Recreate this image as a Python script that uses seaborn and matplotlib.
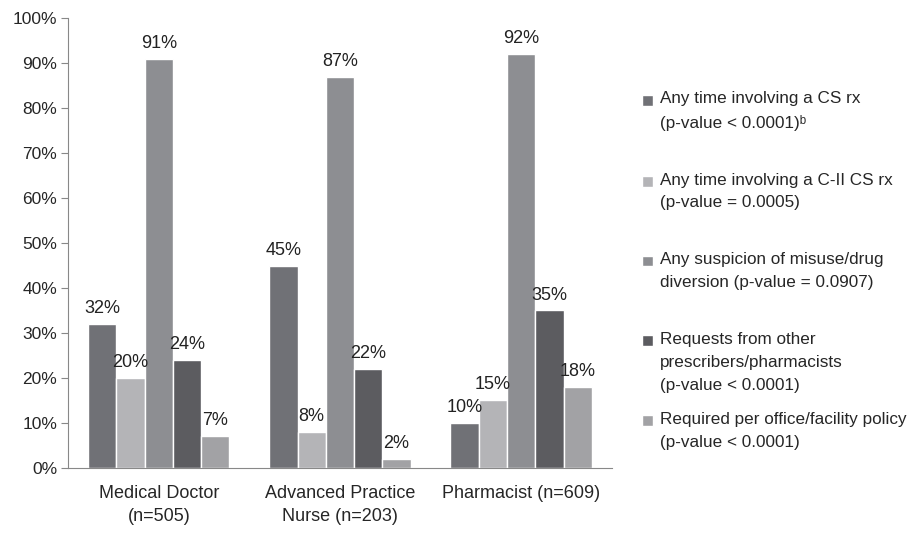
import pandas as pd
import seaborn as sns
import matplotlib.pyplot as plt
from matplotlib.patches import Rectangle
from matplotlib.legend_handler import HandlerPatch

groups = ["Medical Doctor\n(n=505)", "Advanced Practice\nNurse (n=203)", "Pharmacist (n=609)"]
series = [
    "Any time involving a CS rx\n(p-value < 0.0001)\u1d47",
    "Any time involving a C-II CS rx\n(p-value = 0.0005)",
    "Any suspicion of misuse/drug\ndiversion (p-value = 0.0907)",
    "Requests from other\nprescribers/pharmacists\n(p-value < 0.0001)",
    "Required per office/facility policy\n(p-value < 0.0001)",
]
cs_rx = [32, 45, 10]
c2_rx = [20, 8, 15]
misuse = [91, 87, 92]
requests = [24, 22, 35]
policy = [7, 2, 18]
colors = ["#707176", "#b4b4b7", "#8d8e92", "#5c5c60", "#a2a2a5"]

rows = []
for s, vals in zip(series, [cs_rx, c2_rx, misuse, requests, policy]):
    for g, v in zip(groups, vals):
        rows.append({"group": g, "series": s, "value": v})
df = pd.DataFrame(rows)

sns.set_style("white")
plt.rcParams["font.family"] = ["Liberation Sans", "DejaVu Sans"]

fig = plt.figure(figsize=(9.09, 5.53), dpi=100)
ax = fig.add_axes([0.075, 0.154, 0.598, 0.813])
sns.barplot(data=df, x="group", y="value", hue="series", palette=colors,
            width=0.78, saturation=1, ax=ax, errorbar=None)

for c in ax.containers:
    ax.bar_label(c, fmt="%d%%", padding=5, fontsize=13, color="#222222")

ax.set_ylim(0, 100)
ax.set_yticks(range(0, 101, 10))
ax.set_yticklabels([f"{t}%" for t in range(0, 101, 10)], fontsize=12.5)
ax.set_xlim(-0.5, 2.5)
ax.set_xticks([-0.5, 0.5, 1.5, 2.5], minor=True)
ax.tick_params(axis="x", which="major", length=0, labelsize=13, pad=12)
ax.tick_params(axis="x", which="minor", length=5, color="#888888", direction="out")
ax.tick_params(axis="y", length=5, color="#888888", direction="out", left=True, pad=3)
for t in ax.get_xticklabels():
    t.set_linespacing(1.5)
ax.set_xlabel("")
ax.set_ylabel("")
for sp in ["top", "right"]:
    ax.spines[sp].set_visible(False)
for sp in ["left", "bottom"]:
    ax.spines[sp].set_color("#888888")


# legend: every entry takes three lines, square sits next to the first line
def top_square(legend, orig_handle, xdescent, ydescent, width, height, fontsize):
    return Rectangle((-xdescent, -ydescent + 15.8), width * 1.05, width * 1.05)


handles, labels = ax.get_legend_handles_labels()
labels = [lb if lb.count("\n") == 2 else lb + "\n " for lb in labels]
leg = ax.legend(handles, labels, loc="upper left", bbox_to_anchor=(1.028, 0.872),
                frameon=False, fontsize=12.3, handlelength=0.6, handleheight=0.65,
                handletextpad=0.45, labelspacing=1.12,
                handler_map={h: HandlerPatch(patch_func=top_square) for h in handles})
for t in leg.get_texts():
    t.set_linespacing(1.65)

fig.savefig("out.png", dpi=100)
